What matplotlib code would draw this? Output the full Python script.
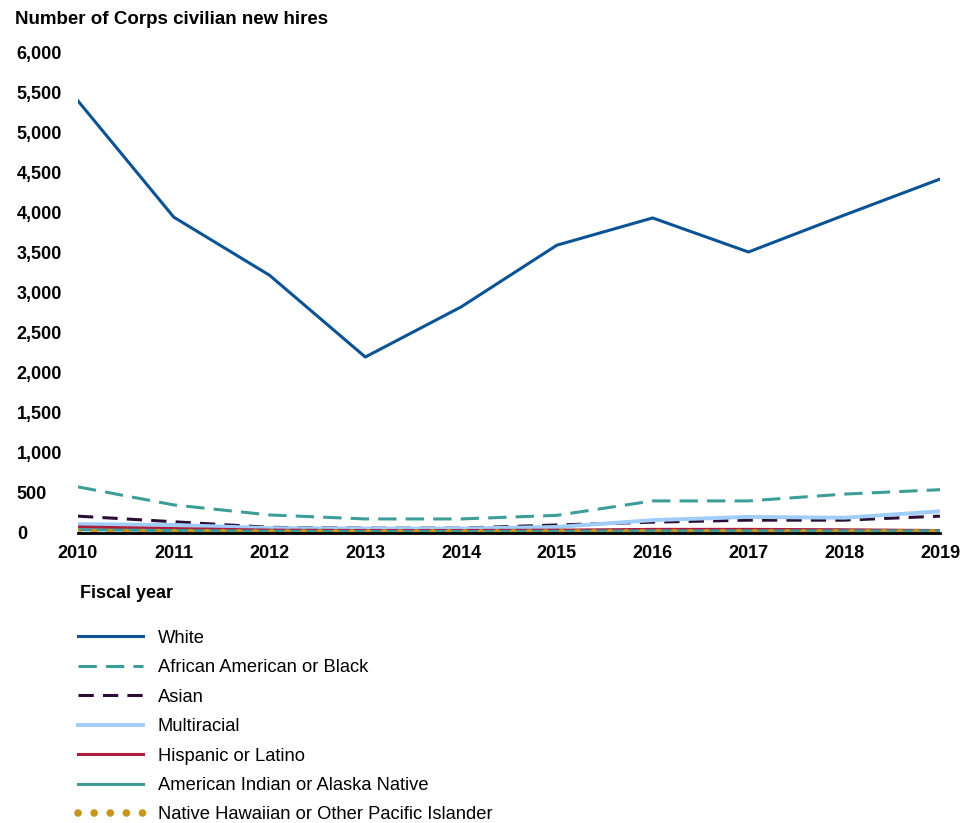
import matplotlib
matplotlib.use("Agg")
from matplotlib import pyplot as plt
from matplotlib.ticker import FuncFormatter

plt.rcParams['font.family'] = ['Liberation Sans', 'DejaVu Sans']

years = [2010, 2011, 2012, 2013, 2014, 2015, 2016, 2017, 2018, 2019]

# new hires per group
white = [5390, 3940, 3215, 2195, 2820, 3590, 3930, 3505, 3965, 4415]
black = [575, 350, 225, 175, 175, 220, 400, 400, 485, 540]
asian = [210, 140, 70, 60, 60, 100, 135, 160, 160, 210]
multiracial = [110, 100, 60, 55, 55, 75, 160, 200, 190, 270]
hispanic = [75, 55, 35, 30, 30, 35, 45, 45, 40, 30]
am_indian = [40, 30, 20, 18, 18, 20, 25, 25, 25, 25]
nh_pacific = [5, 5, 3, 3, 3, 3, 4, 4, 4, 5]

labels = ["White", "African American or Black", "Asian", "Multiracial",
          "Hispanic or Latino", "American Indian or Alaska Native",
          "Native Hawaiian or Other Pacific Islander"]
yticks = [0, 500, 1000, 1500, 2000, 2500, 3000, 3500, 4000, 4500, 5000, 5500, 6000]

fig = plt.figure(figsize=(9.76, 8.23), dpi=100)
ax = fig.add_axes([0.0799, 0.3524, 0.8832, 0.5844])

ax.plot(years, white, color="#0b5394", lw=2.2, label=labels[0])
ax.plot(years, black, color="#3d9e98", lw=2.2, ls=(0, (6, 3)), label=labels[1])
ax.plot(years, asian, color="#2b0d35", lw=2.2, ls=(0, (5, 3)), label=labels[2])
ax.plot(years, multiracial, color="#9fcdf7", lw=2.8, label=labels[3])
ax.plot(years, hispanic, color="#b01c3c", lw=2.2, label=labels[4])
ax.plot(years, am_indian, color="#3e9b96", lw=2.2, label=labels[5])
ax.plot(years, nh_pacific, color="#c89620", lw=5.5, ls=(0, (0.01, 2.1)),
        dash_capstyle="round", label=labels[6])

ax.set_xlim(2010, 2019)
ax.set_ylim(0, 6000)
ax.set_xticks(years)
ax.set_yticks(yticks)
ax.yaxis.set_major_formatter(FuncFormatter(lambda v, p: f"{int(v):,}"))

for s in ["top", "right", "left"]:
    ax.spines[s].set_visible(False)
ax.spines["bottom"].set_color("black")
ax.spines["bottom"].set_linewidth(2)
ax.tick_params(axis="y", length=0, pad=44, labelsize=13)
ax.tick_params(axis="x", length=0, pad=9, labelsize=13)
for t in ax.get_yticklabels():
    t.set_fontweight("bold")
    t.set_ha("left")
for t in ax.get_xticklabels():
    t.set_fontweight("bold")

fig.text(15 / 976, 1 - 20 / 823, "Number of Corps civilian new hires",
         fontsize=13.5, fontweight="bold", va="center", ha="left")
fig.text(80 / 976, 1 - 594 / 823, "Fiscal year",
         fontsize=13, fontweight="bold", va="center", ha="left")

fig.legend(loc="upper left", bbox_to_anchor=(63 / 976, 1 - 615 / 823),
           frameon=False, fontsize=13.2, handlelength=3.55, handletextpad=0.82,
           labelspacing=0.68, borderpad=0.3)

fig.savefig("out.png", dpi=100)
